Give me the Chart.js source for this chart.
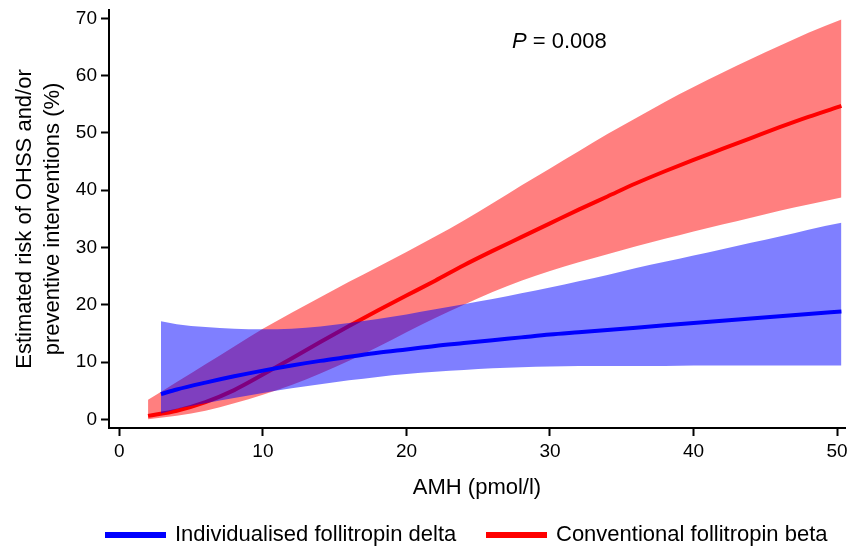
<!DOCTYPE html>
<html lang="en">
<head>
    <meta charset="UTF-8">
    <title>OHSS risk by AMH</title>
    <script src="https://cdn.jsdelivr.net/npm/chart.js"></script>
    <style>
        body { margin: 0; background: white; }
        #chart { display: block; }
    </style>
</head>
<body>
    <canvas id="chart" width="850" height="547"></canvas>

    <script>
        // AMH values (pmol/l) and estimated risk (%)
        const amhRed = [2, 4, 6, 8, 10, 12, 14, 16, 18, 20, 22, 24, 26, 28, 30, 32, 34, 36, 38, 40, 42, 44, 46, 48, 50.3];
        const redFit = [0.6, 1.5, 3.0, 5.1, 7.8, 10.6, 13.5, 16.3, 19.0, 21.6, 24.2, 26.9, 29.4, 31.8, 34.2, 36.6, 38.9, 41.2, 43.3, 45.3, 47.2, 49.1, 51.0, 52.8, 54.7];
        const redUpper = [3.4, 6.5, 9.6, 12.7, 15.8, 18.6, 21.3, 24.0, 26.6, 29.2, 31.9, 34.7, 37.7, 40.8, 43.8, 46.8, 49.8, 52.6, 55.4, 58.0, 60.5, 62.9, 65.2, 67.5, 69.8];
        const redLower = [0, 0.6, 1.5, 2.8, 4.3, 6.0, 8.0, 10.2, 12.6, 15.2, 17.7, 20.0, 22.2, 24.2, 25.9, 27.4, 28.8, 30.2, 31.5, 32.8, 34.0, 35.2, 36.4, 37.5, 38.7];

        const amhBlue = [2.9, 4, 6, 8, 10, 12, 14, 16, 18, 20, 22, 24, 26, 28, 30, 32, 34, 36, 38, 40, 42, 44, 46, 48, 50.3];
        const blueFit = [4.4, 5.2, 6.4, 7.5, 8.5, 9.4, 10.2, 10.9, 11.6, 12.2, 12.8, 13.3, 13.8, 14.3, 14.8, 15.2, 15.6, 16.0, 16.4, 16.8, 17.2, 17.6, 18.0, 18.4, 18.8];
        const blueUpper = [17.1, 16.6, 16.1, 15.8, 15.7, 15.8, 16.2, 16.8, 17.5, 18.3, 19.2, 20.1, 21.0, 22.0, 23.0, 24.1, 25.2, 26.4, 27.5, 28.6, 29.7, 30.8, 31.9, 33.1, 34.3];
        const blueLower = [1.0, 1.8, 2.8, 3.7, 4.6, 5.4, 6.1, 6.8, 7.4, 7.9, 8.3, 8.6, 8.9, 9.1, 9.2, 9.3, 9.3, 9.3, 9.3, 9.4, 9.4, 9.4, 9.4, 9.4, 9.4];

        const seriesNames = ['Individualised follitropin delta', 'Conventional follitropin beta'];
        const xTitle = 'AMH (pmol/l)';
        const yTitle = ['Estimated risk of OHSS and/or', 'preventive interventions (%)'];
        const pLabel = ['P', ' = 0.008'];

        const FONT = 'Arial, "Liberation Sans", sans-serif';
        const BLUE = '#0000ff';
        const RED = '#ff0000';
        const INK = '#000';

        function pts(xs, ys) {
            return xs.map((x, i) => ({ x: x, y: ys[i] }));
        }

        function bandLine(xs, ys, fill, color) {
            return {
                data: pts(xs, ys),
                borderWidth: 0,
                pointRadius: 0,
                backgroundColor: color,
                fill: fill,
                cubicInterpolationMode: 'monotone'
            };
        }

        // first dataset ends up on top
        const datasets = [
            { label: seriesNames[0], data: pts(amhBlue, blueFit), borderColor: BLUE, borderWidth: 4, pointRadius: 0, fill: false, cubicInterpolationMode: 'monotone' },
            bandLine(amhBlue, blueUpper, '+1', 'rgba(0,0,255,0.5)'),
            bandLine(amhBlue, blueLower, false, 'transparent'),
            { label: seriesNames[1], data: pts(amhRed, redFit), borderColor: RED, borderWidth: 4, pointRadius: 0, fill: false, cubicInterpolationMode: 'monotone' },
            bandLine(amhRed, redUpper, '+1', 'rgba(255,0,0,0.5)'),
            bandLine(amhRed, redLower, false, 'transparent')
        ];

        const extras = {
            id: 'extras',
            afterDraw(chart) {
                const ctx = chart.ctx;
                ctx.save();
                ctx.fillStyle = INK;
                ctx.textBaseline = 'middle';
                ctx.textAlign = 'left';

                // P value
                ctx.font = 'italic 22px ' + FONT;
                let x = 512;
                ctx.fillText(pLabel[0], x, 42);
                x += ctx.measureText(pLabel[0]).width;
                ctx.font = '22px ' + FONT;
                ctx.fillText(pLabel[1], x, 42);

                // legend
                const items = [
                    { x: 105, color: BLUE, text: seriesNames[0] },
                    { x: 486, color: RED, text: seriesNames[1] }
                ];
                items.forEach(it => {
                    ctx.fillStyle = it.color;
                    ctx.fillRect(it.x, 532, 61, 6);
                    ctx.fillStyle = INK;
                    ctx.fillText(it.text, it.x + 70, 535);
                });
                ctx.restore();
            }
        };

        new Chart(document.getElementById('chart'), {
            type: 'line',
            data: { datasets: datasets },
            options: {
                responsive: false,
                animation: false,
                devicePixelRatio: 1,
                layout: { padding: { left: 0, top: 10, right: 5, bottom: 0 } },
                plugins: {
                    legend: { display: false },
                    tooltip: { enabled: false },
                    filler: { propagate: false }
                },
                scales: {
                    x: {
                        type: 'linear',
                        min: -0.72,
                        max: 50.55,
                        grid: { display: true, drawOnChartArea: false, drawTicks: true, tickLength: 8, tickWidth: 2, tickColor: INK },
                        border: { display: true, color: INK, width: 2 },
                        ticks: { stepSize: 10, includeBounds: false, padding: 4, color: INK, font: { family: FONT, size: 19 }, maxRotation: 0 },
                        title: { display: true, text: xTitle, color: INK, font: { family: FONT, size: 22 }, padding: { top: 0, bottom: 46 } },
                        afterFit(scale) {
                            scale.height = 119;
                            scale.paddingLeft = 0;
                            scale.paddingRight = 0;
                        }
                    },
                    y: {
                        min: -1.52,
                        max: 71.45,
                        grid: { display: true, drawOnChartArea: false, drawTicks: true, tickLength: 8, tickWidth: 2, tickColor: INK },
                        border: { display: true, color: INK, width: 2 },
                        ticks: { stepSize: 10, includeBounds: false, padding: 4, color: INK, font: { family: FONT, size: 19 } },
                        title: { display: true, text: yTitle, color: INK, font: { family: FONT, size: 22, lineHeight: 1.28 }, padding: { top: 11, bottom: 0 } },
                        afterFit(scale) {
                            scale.width = 109;
                            scale.paddingTop = 0;
                            scale.paddingBottom = 0;
                        }
                    }
                }
            },
            plugins: [extras]
        });
    </script>
</body>
</html>
